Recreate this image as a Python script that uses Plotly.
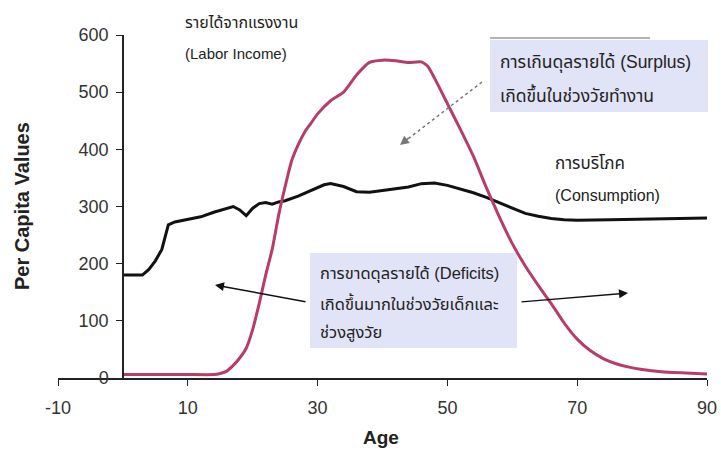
import plotly.graph_objects as go

# ---- data ----
age_cons = [0, 3, 4, 5, 6, 7, 8, 10, 12, 14, 16, 17, 18, 19, 20, 21, 22, 23, 24, 25, 27, 29, 31, 32, 34,
            36, 38, 40, 42, 44, 46, 48, 50, 52, 54, 56, 58, 60, 62, 64, 66, 68, 70, 75, 80, 85, 90]
consumption = [180, 180, 190, 205, 225, 268, 273, 277, 282, 290, 296, 300, 294, 284, 297, 305, 307, 304, 308,
               310, 318, 328, 338, 340, 335, 326, 325, 328, 331, 334, 340, 341, 337, 331, 324, 316, 307, 298,
               288, 283, 279, 277, 276, 277, 278, 279, 280]

age_li = [0, 5, 10, 14, 15, 16, 17, 18, 19, 20, 21, 22, 23, 24, 25, 26, 27, 28, 29, 30, 32, 34, 36, 38, 40,
          42, 44, 46, 47, 48, 50, 52, 54, 56, 58, 60, 62, 64, 66, 68, 70, 72, 74, 76, 78, 80, 83, 86, 90]
labor_income = [6, 6, 6, 6, 8, 12, 22, 35, 52, 85, 130, 180, 225, 285, 335, 380, 408, 430, 446, 462, 485, 500,
                530, 552, 556, 555, 552, 553, 545, 525, 480, 435, 388, 333, 282, 235, 196, 162, 130, 96, 68, 48,
                34, 25, 19, 15, 11, 9, 7]

x_ticks = [-10, 10, 30, 50, 70, 90]
x_tick_text = ["-10", "10", "30", "50", "70", "90"]
y_ticks = [0, 100, 200, 300, 400, 500, 600]

# ---- geometry helpers (pixel -> paper) ----
L, R, T, B = 58, 14, 35, 72
W, H = 721, 450
PW, PH = W - L - R, H - T - B


def px(x):
    return (x - L) / PW


def py(y):
    return (H - B - y) / PH


FONT = "Liberation Sans, Arial, Noto Sans Thai, sans-serif"
BOX = "#e1e3f6"

fig = go.Figure()
fig.add_trace(go.Scatter(x=age_cons, y=consumption, mode="lines",
                         line=dict(color="#111111", width=3), showlegend=False))
fig.add_trace(go.Scatter(x=age_li, y=labor_income, mode="lines",
                         line=dict(color="#b83c68", width=3, shape="spline", smoothing=0.5),
                         showlegend=False))

shapes = [
    # surplus box
    dict(type="rect", xref="paper", yref="paper", x0=px(490), x1=px(708), y0=py(112), y1=py(40),
         fillcolor=BOX, line=dict(width=0), layer="below"),
    dict(type="line", xref="paper", yref="paper", x0=px(490), x1=px(650), y0=py(38), y1=py(38),
         line=dict(color="#9a9a9a", width=1.5)),
    # deficits box
    dict(type="rect", xref="paper", yref="paper", x0=px(310), x1=px(517), y0=py(348), y1=py(253),
         fillcolor=BOX, line=dict(width=0), layer="below"),
    # dashed surplus arrow shaft
    dict(type="line", xref="paper", yref="paper", x0=px(482), x1=px(404), y0=py(82), y1=py(142),
         line=dict(color="#777777", width=1.5, dash="dot")),
]

ann = []


def txt(t, x, y, size=14, color="#222222"):
    ann.append(dict(text=t, xref="paper", yref="paper", x=px(x), y=py(y), xanchor="left",
                    yanchor="middle", showarrow=False, font=dict(family=FONT, size=size, color=color)))


txt("รายได้จากแรงงาน", 183, 22, 16)
txt("(Labor Income)", 183, 53, 15)
txt("การเกินดุลรายได้ (Surplus)", 498, 63, 17.5)
txt("เกิดขึ้นในช่วงวัยทำงาน", 498, 95, 17.5)
txt("การบริโภค", 553, 163, 17)
txt("(Consumption)", 553, 195, 16)
txt("การขาดดุลรายได้ (Deficits)", 318, 273, 16.5)
txt("เกิดขึ้นมากในช่วงวัยเด็กและ", 318, 303, 16.5)
txt("ช่วงสูงวัย", 318, 332, 16.5)


def arrow(x0, y0, x1, y1, color, width=1.5):
    ann.append(dict(text="", xref="paper", yref="paper", x=px(x1), y=py(y1),
                    axref="pixel", ayref="pixel", ax=x0 - x1, ay=y0 - y1,
                    showarrow=True, arrowhead=2, arrowsize=1.2, arrowwidth=width, arrowcolor=color))


arrow(307, 302, 215, 285, "#111111")
arrow(520, 302, 628, 293, "#111111")
arrow(410, 137, 400, 145, "#777777")

# axis titles
ann.append(dict(text="<b>Age</b>", xref="paper", yref="paper", x=px(381), y=py(438),
                xanchor="center", yanchor="middle", showarrow=False,
                font=dict(family=FONT, size=19, color="#222222")))
ann.append(dict(text="<b>Per Capita Values</b>", xref="paper", yref="paper", x=px(22), y=py(206),
                xanchor="center", yanchor="middle", showarrow=False, textangle=-90,
                font=dict(family=FONT, size=20, color="#222222")))

fig.update_layout(
    width=W, height=H,
    margin=dict(l=L, r=R, t=T, b=B, pad=0, autoexpand=False),
    plot_bgcolor="white", paper_bgcolor="white",
    shapes=shapes, annotations=ann,
    showlegend=False,
    xaxis=dict(range=[-10, 90], tickvals=x_ticks, ticktext=x_tick_text, showline=True,
               linecolor="#222222", linewidth=1.5, automargin=False,
               ticks="outside", ticklen=6, tickcolor="#222222", showgrid=False, zeroline=False,
               tickfont=dict(family=FONT, size=18, color="#333333"), ticklabelstandoff=7),
    yaxis=dict(range=[0, 600], tickvals=y_ticks, showline=True, linecolor="#222222", linewidth=1.5,
               ticks="outside", ticklen=6, tickcolor="#222222", showgrid=False, zeroline=False,
               anchor="free", position=px(123), ticklabelstandoff=4, automargin=False,
               tickfont=dict(family=FONT, size=18, color="#333333")),
)

fig.write_html("out.html", config={"displayModeBar": False},
               post_script="document.body.style.margin='0';")
